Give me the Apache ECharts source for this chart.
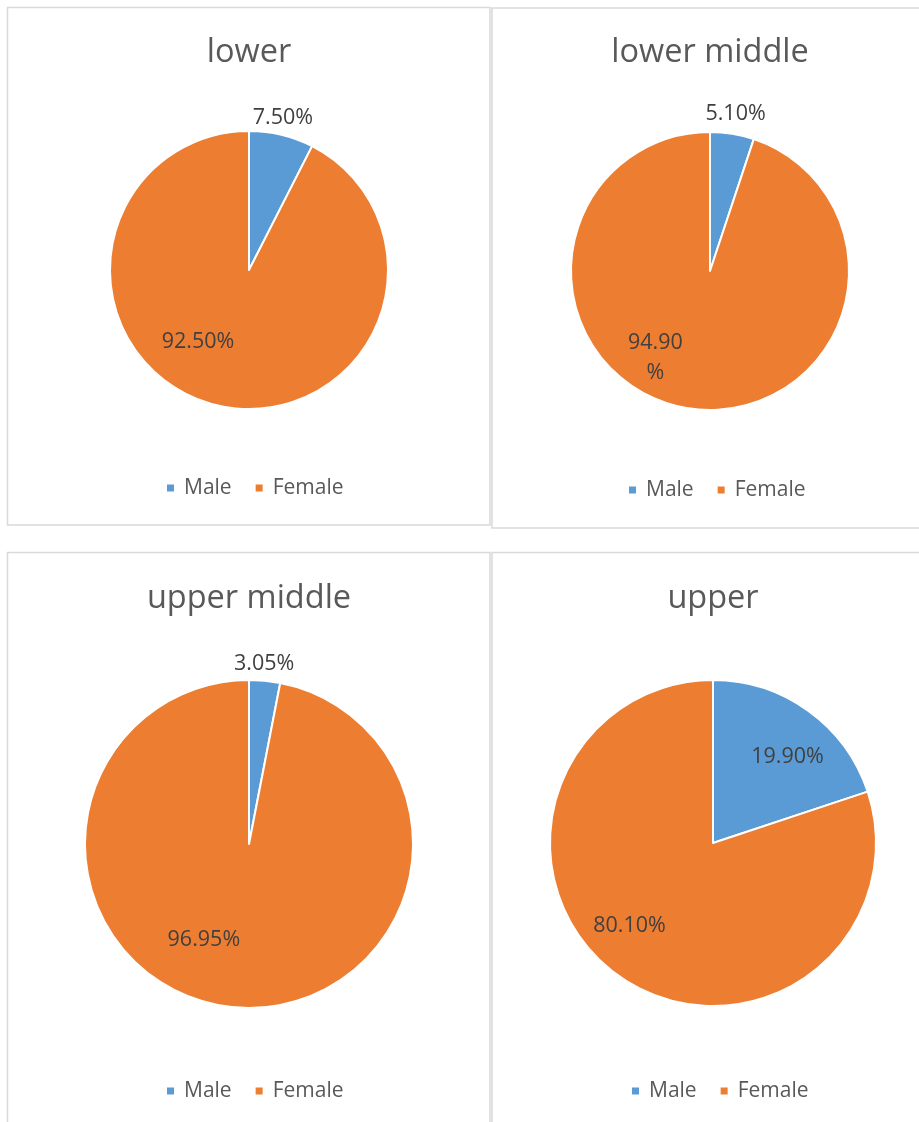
<!DOCTYPE html>
<html>
<head>
<meta charset="utf-8">
<script src="https://cdn.jsdelivr.net/npm/echarts@6/dist/echarts.min.js"></script>
<style>html,body{margin:0;padding:0;background:#fff}#c{width:919px;height:1122px}</style>
</head>
<body>
<div id="c"></div>
<script>
// ---- data ----
const panelTitles = ['lower', 'lower middle', 'upper middle', 'upper'];
const categories = ['Male', 'Female'];
const maleShare = [7.50, 5.10, 3.05, 19.90];
const femaleShare = [92.50, 94.90, 96.95, 80.10];
const wrapFemaleLabel = [false, true, false, false];

// ---- layout (positions/styles) ----
const layout = [
  { cx: 249, cy: 270, r: 139, titleX: 249, titleY: 33, legendX: 165, legendY: 476,
    off: [[17, -82], [-34, 1]] },
  { cx: 710, cy: 271, r: 139, titleX: 710, titleY: 33, legendX: 627, legendY: 478,
    off: [[14, -86], [-43, 15]] },
  { cx: 249, cy: 844, r: 164, titleX: 249, titleY: 579, legendX: 165, legendY: 1079,
    off: [[7, -96], [-37, 11]] },
  { cx: 713, cy: 843, r: 163, titleX: 713, titleY: 579, legendX: 630, legendY: 1079,
    off: [[25, -18], [-34, 14]] }
];
const colors = ['#5B9BD5', '#ED7D31'];
const FONT = '"Open Sans", sans-serif';

const chart = echarts.init(document.getElementById('c'));

const title = panelTitles.map((t, i) => ({
  text: t, left: layout[i].titleX, top: layout[i].titleY, textAlign: 'center', padding: 0,
  textStyle: { fontFamily: FONT, fontSize: 32.5, fontWeight: 'normal', color: '#595959', lineHeight: 40 }
}));

const legend = panelTitles.map((t, i) => ({
  data: categories, left: layout[i].legendX, top: layout[i].legendY, padding: 0,
  icon: 'rect', itemWidth: 9, itemHeight: 9, itemGap: 22, selectedMode: false,
  textStyle: { fontFamily: FONT, fontSize: 21, color: '#595959', lineHeight: 24, padding: [0, 0, 0, 4] }
}));

const series = panelTitles.map((t, i) => {
  const L = layout[i];
  return {
    type: 'pie', name: t, center: [L.cx, L.cy], radius: L.r,
    startAngle: 90, clockwise: true, animation: false,
    itemStyle: { borderColor: '#fff', borderWidth: 2 },
    label: {
      show: true, position: 'inside', fontFamily: FONT, fontSize: 21.5, color: '#404040', lineHeight: 30,
      formatter: p => (p.dataIndex === 1 && wrapFemaleLabel[i])
        ? p.value.toFixed(2) + '\n%' : p.value.toFixed(2) + '%'
    },
    labelLine: { show: false },
    emphasis: { disabled: true },
    labelLayout: p => ({ dx: L.off[p.dataIndex][0], dy: L.off[p.dataIndex][1] }),
    data: [
      { name: categories[0], value: maleShare[i], itemStyle: { color: colors[0] } },
      { name: categories[1], value: femaleShare[i], itemStyle: { color: colors[1] } }
    ]
  };
});

const border = { stroke: '#d9d9d9', lineWidth: 1.5, fill: 'none' };
const graphic = [
  { type: 'rect', shape: { x: 7.5, y: 7.5, width: 482.5, height: 517.5 }, style: border, silent: true, z: -1 },
  { type: 'rect', shape: { x: 492, y: 8, width: 450, height: 520 }, style: border, silent: true, z: -1 },
  { type: 'rect', shape: { x: 7.5, y: 552.5, width: 482.5, height: 600 }, style: border, silent: true, z: -1 },
  { type: 'rect', shape: { x: 492, y: 552.5, width: 450, height: 600 }, style: border, silent: true, z: -1 }
];

chart.setOption({ animation: false, color: colors, title, legend, series, graphic });
</script>
</body>
</html>
